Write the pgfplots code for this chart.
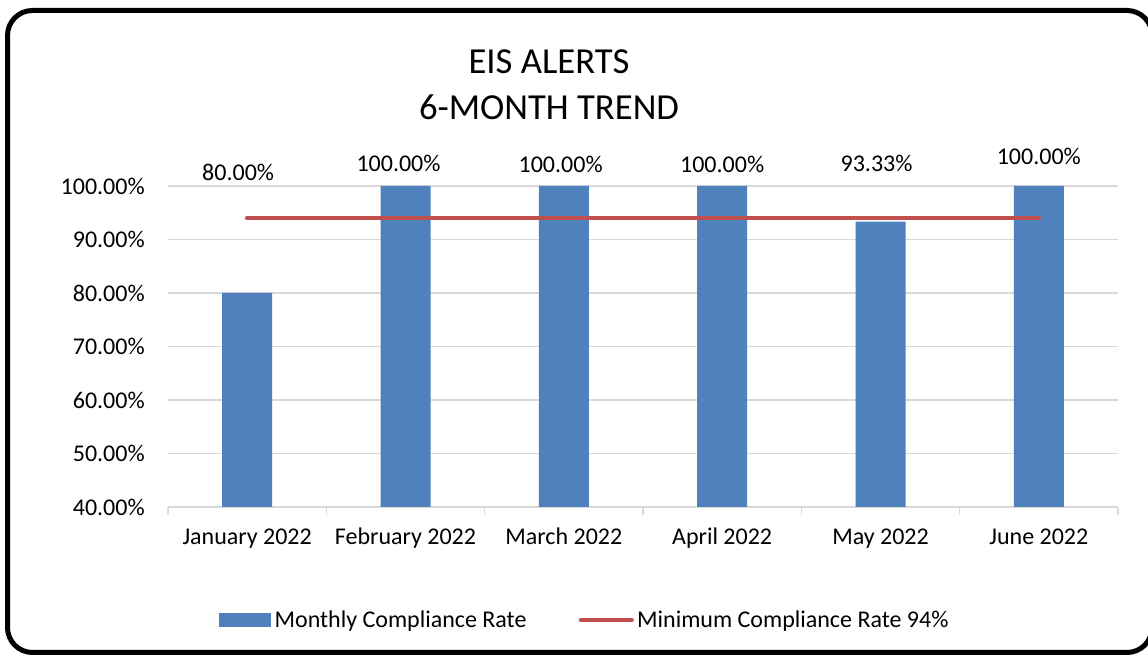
\documentclass[border=0pt]{standalone}
\usepackage{pgfplots}
\pgfplotsset{compat=1.18}
\usepackage{fontspec}
\setmainfont{Carlito}
\definecolor{barblue}{HTML}{4F81BD}
\definecolor{linered}{HTML}{C0504D}
\definecolor{gridgray}{HTML}{D9D9D9}
\begin{document}
\begin{tikzpicture}
\useasboundingbox (0,0) rectangle (861pt,492pt);
\draw[line width=3.75pt, rounded corners=18.75pt] (5.625pt,2.625pt) rectangle (864pt,484.125pt);
\node[anchor=base, font=\fontsize{27.5}{33}\selectfont, inner sep=0pt] at (411.75pt,436.5pt) {EIS ALERTS};
\node[anchor=base, font=\fontsize{27.5}{33}\selectfont, inner sep=0pt] at (411.75pt,402pt) {6-MONTH TREND};
\begin{axis}[
  at={(126pt,111.75pt)}, anchor=south west,
  scale only axis, width=712.5pt, height=240.75pt,
  xmin=-0.5, xmax=5.5, ymin=40, ymax=100,
  clip mode=individual,
  axis line style={draw=none},
  ytick={40,50,...,100},
  yticklabels={40.00\%,50.00\%,60.00\%,70.00\%,80.00\%,90.00\%,100.00\%},
  ymajorgrids, major grid style={gridgray, line width=1.1pt},
  xtick={0,...,5},
  xticklabels={January 2022, February 2022, March 2022, April 2022, May 2022, June 2022},
  major tick length=0pt,
  extra x ticks={-0.5,0.5,1.5,2.5,3.5,4.5,5.5},
  extra x tick labels={},
  extra x tick style={major tick length=6pt, tick align=outside, xmajorgrids=false, ymajorgrids=false, tick style={gridgray, line width=1.1pt}},
  tick pos=left,
  ticklabel style={font=\fontsize{18}{21.5}\selectfont},
  yticklabel style={anchor=east, inner sep=0pt, xshift=-17.25pt},
  xticklabel style={anchor=base, inner sep=0pt, yshift=-28.5pt},
  legend style={at={(0.0537,-0.352)}, anchor=west, draw=none, fill=none,
    legend columns=2, inner sep=0pt, font=\fontsize{18}{21.5}\selectfont,
    nodes={inner sep=2.5pt},
    /tikz/every even column/.append style={column sep=36.75pt}},
  legend cell align=left,
]
\addplot[ybar, bar width=37.5pt, fill=barblue, draw=none,
  legend image code/.code={\fill[barblue] (0pt,-5.25pt) rectangle (39pt,5.25pt);}]
  coordinates {(0,80) (1,100) (2,100) (3,100) (4,93.33) (5,100)};
\addlegendentry{Monthly Compliance Rate}
\addplot[linered, line width=3.5pt, line cap=round, mark=none,
  legend image code/.code={\draw[linered, line width=3.5pt, line cap=round] (1.75pt,0pt) -- (39.5pt,0pt);}]
  coordinates {(0,94) (1,94) (2,94) (3,94) (4,94) (5,94)};
\addlegendentry{Minimum Compliance Rate 94\%}
\node[anchor=base, font=\fontsize{18}{21.5}\selectfont, inner sep=0pt] at (axis cs:-0.057,101.12) {80.00\%};
\node[anchor=base, font=\fontsize{18}{21.5}\selectfont, inner sep=0pt] at (axis cs:0.956,102.67) {100.00\%};
\node[anchor=base, font=\fontsize{18}{21.5}\selectfont, inner sep=0pt] at (axis cs:1.98,102.49) {100.00\%};
\node[anchor=base, font=\fontsize{18}{21.5}\selectfont, inner sep=0pt] at (axis cs:3.0,102.6) {100.00\%};
\node[anchor=base, font=\fontsize{18}{21.5}\selectfont, inner sep=0pt] at (axis cs:3.975,102.67) {93.33\%};
\node[anchor=base, font=\fontsize{18}{21.5}\selectfont, inner sep=0pt] at (axis cs:5.0,103.93) {100.00\%};
\end{axis}
\end{tikzpicture}
\end{document}
